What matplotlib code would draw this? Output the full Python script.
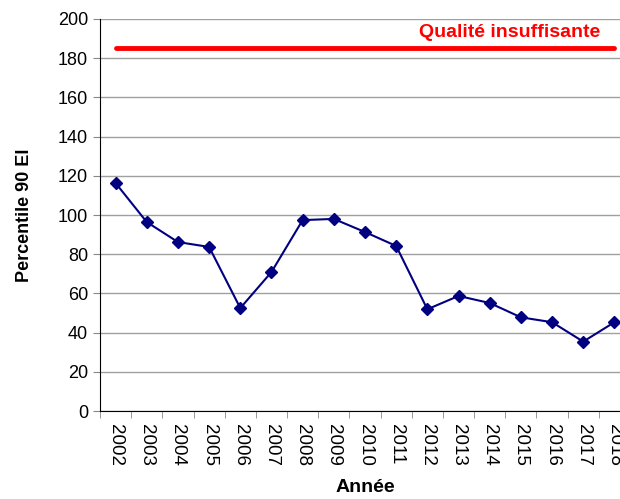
import matplotlib
matplotlib.use("Agg")
import matplotlib.pyplot as plt

years = [str(y) for y in range(2002, 2019)]
values = [116.3, 96.4, 86.2, 83.7, 52.5, 70.9, 97.4, 98.0, 91.3, 84.2,
          51.9, 58.7, 55.1, 47.8, 45.3, 35.4, 45.3]
threshold = 185
threshold_label = "Qualité insuffisante"
yticks = list(range(0, 201, 20))

plt.rcParams['font.family'] = ['Liberation Sans', 'DejaVu Sans']

fig = plt.figure(figsize=(6.2, 4.99), dpi=100)
ax = fig.add_axes([100/620, 88/499, 530/620, 392/499])

x = list(range(len(years)))
ax.plot(x, values, color='#000080', lw=1.5, marker='D', ms=6.5, zorder=3)
ax.plot([x[0], x[-1]], [threshold, threshold], color='#ff0000', lw=3.5,
        solid_capstyle='round', zorder=3)
ax.text(x[-1] - 0.45, 193.3, threshold_label, color='#ff0000', fontsize=14,
        fontweight='bold', ha='right', va='center')

ax.set_xlim(-0.5, len(years) - 0.5)
ax.set_ylim(0, 200)
ax.set_yticks(yticks)
ax.set_xticks(x)
ax.set_xticklabels(years, rotation=-90, fontsize=13.5)
ax.tick_params(axis='x', length=0, pad=9)
ax.set_xticks([i - 0.5 for i in range(len(years) + 1)], minor=True)
ax.tick_params(axis='x', which='minor', length=5, color='#888888', direction='out')
ax.tick_params(axis='y', labelsize=13, length=5, color='#888888', direction='out')
ax.yaxis.grid(True, color='#a0a0a0', lw=1)
ax.set_axisbelow(True)
for s in ['top', 'right']:
    ax.spines[s].set_visible(False)
ax.spines['left'].set_color('black')
ax.spines['bottom'].set_color('black')
ax.set_ylabel('Percentile 90 EI', fontsize=13, fontweight='bold', labelpad=18)
ax.set_xlabel('Année', fontsize=14, fontweight='bold', labelpad=10)

fig.savefig('out.png', dpi=100)
